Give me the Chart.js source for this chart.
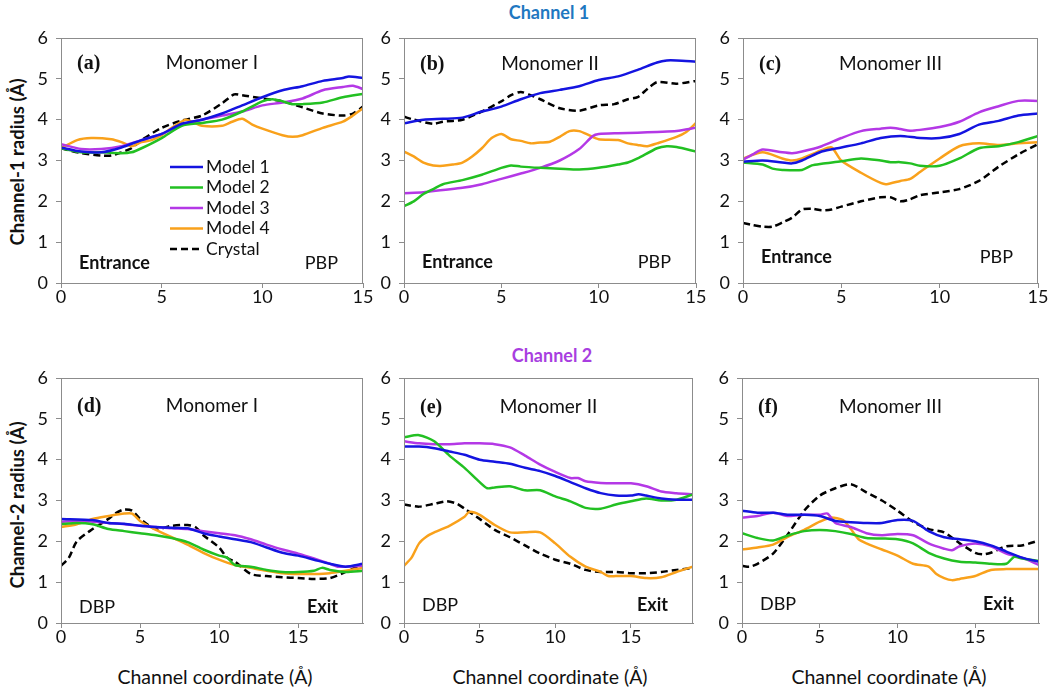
<!DOCTYPE html>
<html>
<head>
<meta charset="utf-8">
<script src="https://cdn.jsdelivr.net/npm/chart.js@4.4.1/dist/chart.umd.min.js"></script>
<style>
  body { margin: 0; background: #fff; width: 1050px; height: 687px; position: relative; overflow: hidden; font-family: Lato, "Open Sans", sans-serif; color: #111; }
  .box { position: absolute; }
  .head { position: absolute; font-weight: bold; font-size: 18px; transform: translate(-50%, -50%); white-space: nowrap; }
  .ylab { position: absolute; font-weight: bold; font-size: 18.5px; white-space: nowrap; transform: translate(-50%, -50%) rotate(-90deg); }
  .xlab { position: absolute; font-size: 19.5px; white-space: nowrap; transform: translate(-50%, -50%); }
</style>
</head>
<body>
<div class="head" style="left:549px;top:12px;color:#1f78c1">Channel 1</div>
<div class="head" style="left:552px;top:355px;color:#a83ee0">Channel 2</div>
<div class="ylab" style="left:17px;top:162px">Channel-1 radius (Å)</div>
<div class="ylab" style="left:17px;top:505px">Channel-2 radius (Å)</div>
<div class="xlab" style="left:215px;top:676px">Channel coordinate (Å)</div>
<div class="xlab" style="left:550px;top:676px">Channel coordinate (Å)</div>
<div class="xlab" style="left:889px;top:676px">Channel coordinate (Å)</div>

<script>
// series names and colours
const seriesNames = ['Model 1', 'Model 2', 'Model 3', 'Model 4', 'Crystal'];
const seriesColors = ['#1414e0', '#22c022', '#b438e6', '#f9a11b', '#000000'];

// axis ticks
const xTicksTop = [0, 5, 10, 15];
const xTicksBottom = [0, 5, 10, 15];
const yTicks = [0, 1, 2, 3, 4, 5, 6];

// (a) channel 1, monomer I  — [coordinate, radius]
const a_m1 = [[0,3.32],[1,3.22],[2,3.2],[3,3.32],[4,3.5],[5,3.65],[6,3.9],[7,4.0],[8,4.15],[9,4.35],[10,4.55],[11,4.72],[12,4.82],[13,4.95],[14,5.02],[14.3,5.06],[15,5.02]];
const a_m2 = [[0,3.3],[1,3.2],[2,3.2],[3,3.18],[3.5,3.2],[4,3.3],[5,3.55],[6,3.85],[7,3.92],[8,4.0],[9,4.2],[10,4.45],[10.5,4.5],[11,4.45],[11.5,4.38],[12,4.38],[13,4.42],[14,4.55],[15,4.63]];
const a_m3 = [[0,3.4],[1,3.28],[2,3.28],[3,3.35],[4,3.5],[5,3.65],[6,3.88],[7,4.0],[8,4.1],[9,4.2],[10,4.35],[11,4.42],[12,4.52],[13,4.72],[14,4.8],[14.5,4.83],[15,4.75]];
const a_m4 = [[0,3.3],[0.8,3.5],[1.5,3.55],[2.5,3.52],[3,3.45],[3.5,3.35],[4,3.45],[4.5,3.5],[5,3.62],[5.5,3.8],[6.2,4.0],[6.5,3.95],[7,3.85],[8,3.85],[8.5,3.95],[9,4.02],[9.5,3.88],[10,3.78],[11,3.62],[11.5,3.58],[12,3.62],[13,3.8],[14,3.95],[14.5,4.1],[15,4.28]];
const a_cr = [[0,3.3],[1,3.18],[2,3.12],[2.5,3.12],[3,3.2],[3.5,3.3],[4,3.5],[5,3.8],[6,3.98],[7,4.1],[8,4.4],[8.6,4.62],[9,4.6],[10,4.52],[11,4.45],[12,4.3],[13,4.15],[14,4.1],[14.5,4.15],[15,4.32]];

// (b) channel 1, monomer II
const b_m1 = [[0,3.91],[1,4.0],[2,4.02],[3,4.05],[4,4.2],[5,4.32],[6,4.5],[7,4.65],[8,4.73],[9,4.82],[10,4.97],[11,5.06],[12,5.22],[13,5.4],[13.5,5.45],[14,5.45],[15,5.42]];
const b_m2 = [[0,1.88],[0.5,2.0],[1,2.18],[1.5,2.3],[2,2.42],[3,2.52],[4,2.65],[5,2.82],[5.5,2.88],[6,2.85],[7,2.82],[8,2.8],[9,2.78],[10,2.82],[11,2.9],[11.5,2.95],[12,3.05],[13,3.3],[13.5,3.35],[14,3.33],[15,3.22]];
const b_m3 = [[0,2.2],[1,2.22],[2,2.28],[3,2.33],[4,2.42],[5,2.55],[6,2.68],[7,2.82],[8,3.0],[9,3.28],[9.7,3.6],[10,3.65],[11,3.67],[12,3.68],[13,3.7],[14,3.72],[15,3.8]];
const b_m4 = [[0,3.22],[0.5,3.1],[1,2.95],[1.5,2.88],[2,2.87],[2.5,2.9],[3,2.95],[3.5,3.1],[4,3.3],[4.5,3.55],[5,3.65],[5.5,3.52],[6,3.48],[6.5,3.42],[7,3.44],[7.5,3.46],[8,3.58],[8.5,3.72],[9,3.72],[9.5,3.62],[10,3.52],[11,3.5],[11.5,3.42],[12,3.38],[12.5,3.35],[13,3.42],[14,3.58],[14.5,3.7],[15,3.92]];
const b_cr = [[0,4.07],[0.5,4.0],[1.5,3.9],[2,3.95],[3,4.0],[4,4.2],[5,4.45],[5.5,4.6],[6,4.68],[6.5,4.6],[7,4.5],[8,4.28],[9,4.22],[10,4.35],[10.8,4.38],[11.5,4.5],[12,4.55],[12.5,4.75],[13,4.92],[14,4.88],[15,4.95]];

// (c) channel 1, monomer III
const c_m1 = [[0,2.97],[1,3.0],[2,2.95],[2.5,2.93],[3,3.0],[4,3.22],[5,3.32],[6,3.42],[7,3.55],[8,3.6],[9,3.55],[10,3.55],[11,3.65],[12,3.88],[13,3.97],[14,4.1],[15,4.15]];
const c_m2 = [[0,2.95],[1,2.9],[1.5,2.8],[2,2.77],[3,2.77],[3.5,2.88],[4,2.92],[5,2.98],[6,3.05],[7,3.0],[7.5,2.96],[8,2.96],[8.5,2.93],[9,2.87],[10,2.87],[11,3.05],[12,3.3],[13,3.35],[14,3.45],[15,3.6]];
const c_m3 = [[0,3.02],[0.5,3.15],[1,3.27],[2,3.2],[2.5,3.18],[3,3.22],[4,3.35],[5,3.55],[6,3.72],[7,3.78],[7.5,3.8],[8,3.77],[8.5,3.73],[9,3.75],[10,3.82],[11,3.95],[12,4.18],[13,4.33],[14,4.46],[15,4.46]];
const c_m4 = [[0,3.05],[1,3.2],[2,3.05],[2.5,3.0],[3,3.05],[4,3.25],[4.5,3.32],[5,3.0],[6,2.7],[7,2.45],[7.3,2.42],[8,2.5],[8.5,2.55],[9,2.72],[10,3.05],[11,3.35],[12,3.42],[13,3.38],[14,3.42],[15,3.45]];
const c_cr = [[0,1.47],[0.5,1.42],[1,1.38],[1.5,1.38],[2,1.48],[2.5,1.6],[3,1.8],[3.5,1.82],[4,1.78],[4.5,1.8],[5,1.87],[6,2.0],[7,2.1],[7.5,2.1],[8,2.0],[8.5,2.05],[9,2.15],[10,2.22],[11,2.3],[12,2.5],[13,2.85],[14,3.15],[15,3.4]];

// (d) channel 2, monomer I
const d_m1 = [[0,2.55],[2,2.52],[3,2.45],[4,2.43],[5,2.38],[6,2.35],[7,2.33],[8,2.32],[9,2.2],[10,2.12],[11,2.05],[12,1.98],[13,1.85],[14,1.72],[15,1.65],[16,1.55],[17,1.45],[18,1.38],[19.1,1.45]];
const d_m2 = [[0,2.42],[1,2.45],[2,2.42],[3,2.3],[4,2.25],[5,2.2],[6,2.15],[7,2.08],[8,1.98],[9,1.8],[10,1.65],[10.5,1.6],[11,1.42],[12,1.38],[13,1.3],[14,1.25],[15,1.25],[16,1.28],[16.5,1.35],[17,1.3],[18,1.25],[19.1,1.28]];
const d_m3 = [[0,2.48],[1,2.5],[2,2.48],[3,2.45],[4,2.42],[5,2.38],[6,2.35],[7,2.32],[8,2.3],[9,2.25],[10,2.2],[11,2.15],[12,2.05],[13,1.92],[14,1.8],[15,1.7],[16,1.58],[17,1.45],[17.5,1.38],[18,1.38],[19.1,1.4]];
const d_m4 = [[0,2.35],[1,2.42],[2,2.55],[3,2.62],[4,2.68],[4.5,2.68],[5,2.5],[6,2.28],[7,2.1],[8,1.92],[9,1.72],[10,1.55],[11,1.42],[12,1.35],[13,1.28],[14,1.22],[15,1.2],[16,1.2],[17,1.22],[18,1.28],[19.1,1.35]];
const d_cr = [[0,1.4],[0.5,1.6],[1,2.0],[2,2.3],[3,2.55],[3.5,2.7],[4,2.78],[4.5,2.75],[5,2.55],[6,2.3],[7,2.38],[8,2.4],[8.5,2.35],[9,2.15],[10,1.85],[10.5,1.6],[11,1.5],[12,1.2],[13,1.15],[14,1.12],[15,1.1],[16,1.08],[17,1.1],[18,1.25],[19.1,1.45]];

// (e) channel 2, monomer II
const e_m1 = [[0,4.32],[1,4.32],[2,4.28],[3,4.2],[4,4.12],[5,4.0],[6,3.95],[7,3.9],[8,3.8],[9,3.72],[10,3.6],[11,3.45],[12,3.3],[13,3.18],[14,3.12],[15,3.12],[15.5,3.15],[16,3.12],[17,3.05],[18,3.02],[19.1,3.02]];
const e_m2 = [[0,4.55],[1,4.6],[2,4.45],[3,4.1],[4,3.8],[5,3.45],[5.5,3.3],[6,3.32],[7,3.35],[8,3.25],[9,3.25],[10,3.1],[11,2.98],[12,2.82],[13,2.8],[14,2.9],[15,2.98],[16,3.05],[17,3.0],[18,3.02],[19.1,3.15]];
const e_m3 = [[0,4.45],[1,4.4],[2,4.38],[3,4.38],[4,4.4],[5,4.4],[6,4.38],[7,4.3],[8,4.1],[9,3.88],[10,3.7],[11,3.55],[11.5,3.55],[12,3.47],[13,3.43],[14,3.42],[15,3.42],[16,3.35],[17,3.22],[18,3.18],[19.1,3.15]];
const e_m4 = [[0,1.4],[0.5,1.6],[1,1.95],[1.5,2.12],[2,2.22],[3,2.38],[4,2.6],[4.3,2.72],[5,2.65],[6,2.4],[7,2.22],[8,2.22],[9,2.22],[10,1.95],[11,1.62],[12,1.38],[13,1.25],[13.5,1.15],[14,1.15],[15,1.15],[16,1.1],[17,1.12],[18,1.25],[19.1,1.38]];
const e_cr = [[0,2.9],[1,2.85],[2,2.92],[2.8,2.98],[3.5,2.92],[4,2.8],[5,2.55],[6,2.28],[7,2.1],[8,1.9],[9,1.7],[10,1.55],[11,1.45],[12,1.3],[13,1.25],[14,1.25],[15,1.22],[16,1.22],[17,1.25],[18,1.3],[19.1,1.35]];

// (f) channel 2, monomer III
const f_m1 = [[0,2.75],[1,2.7],[2,2.7],[3,2.65],[4,2.65],[5,2.62],[6,2.5],[7,2.47],[8,2.45],[9,2.45],[10,2.52],[11,2.5],[12,2.25],[13,2.1],[14,2.05],[15,2.0],[16,1.9],[17,1.75],[18,1.6],[19.1,1.5]];
const f_m2 = [[0,2.2],[1,2.08],[2,2.02],[3,2.15],[4,2.25],[5,2.28],[6,2.25],[7,2.18],[8,2.08],[9,2.07],[10,2.05],[11,1.95],[12,1.72],[13,1.58],[14,1.5],[15,1.48],[16,1.45],[17,1.45],[17.5,1.62],[18,1.58],[19.1,1.52]];
const f_m3 = [[0,2.58],[1,2.62],[2,2.7],[3,2.62],[4,2.65],[5,2.65],[5.5,2.68],[6,2.45],[7,2.35],[8,2.2],[9,2.15],[10,2.18],[11,2.15],[12,1.95],[13,1.82],[13.5,1.78],[14,1.88],[15,1.95],[16,1.88],[17,1.7],[18,1.6],[19.1,1.42]];
const f_m4 = [[0,1.8],[1,1.85],[2,1.92],[3,2.12],[4,2.28],[5,2.48],[5.7,2.58],[6.5,2.52],[7,2.3],[7.5,2.05],[8,1.95],[9,1.8],[10,1.65],[11,1.45],[12,1.38],[12.5,1.2],[13,1.1],[13.5,1.05],[14,1.08],[15,1.15],[16,1.3],[17,1.32],[18,1.32],[19.1,1.32]];
const f_cr = [[0,1.4],[0.5,1.38],[1,1.45],[2,1.7],[3,2.2],[4,2.75],[5,3.12],[6,3.3],[7,3.4],[8,3.2],[9,3.0],[10,2.75],[11,2.48],[12,2.3],[13,2.22],[14,1.95],[15,1.72],[15.5,1.68],[16,1.72],[17,1.88],[18,1.9],[19.1,2.02]];

const YW = 45, XH = 32, PT = 10, PR = 12;

// draws the box, the panel texts and (optionally) the legend
const panelPlugin = {
  id: 'panel',
  afterDraw(chart, args, opts) {
    const { ctx, chartArea: a } = chart;
    ctx.save();
    ctx.strokeStyle = '#8c8c8c';
    ctx.lineWidth = 1;
    ctx.strokeRect(a.left + 0.5, a.top + 0.5, a.right - a.left - 1, a.bottom - a.top);
    ctx.fillStyle = '#111';
    ctx.textBaseline = 'middle';
    ctx.font = 'bold 20px "Liberation Serif", serif';
    ctx.textAlign = 'left';
    ctx.fillText(opts.tag, a.left + 16, a.top + opts.titleDy + 1);
    ctx.font = '19px Lato, sans-serif';
    ctx.textAlign = 'center';
    ctx.fillText(opts.title, (a.left + a.right) / 2, a.top + opts.titleDy);
    ctx.textAlign = 'left';
    ctx.font = (opts.leftBold ? 'bold ' : '') + '18px Lato, sans-serif';
    ctx.fillText(opts.left, a.left + 18, a.bottom - opts.footDy);
    ctx.textAlign = 'right';
    ctx.font = (opts.rightBold ? 'bold ' : '') + '18px Lato, sans-serif';
    ctx.fillText(opts.right, a.right - 25, a.bottom - opts.footDy);
    if (opts.legend) {
      ctx.textAlign = 'left';
      ctx.font = '17.5px Lato, sans-serif';
      chart.data.datasets.forEach((ds, i) => {
        const y = a.top + 129 + i * 20.5;
        const x0 = a.left + 109;
        ctx.strokeStyle = ds.borderColor;
        ctx.lineWidth = 2.5;
        ctx.setLineDash(ds.borderDash || []);
        ctx.beginPath();
        ctx.moveTo(x0, y);
        ctx.lineTo(x0 + 33, y);
        ctx.stroke();
        ctx.setLineDash([]);
        ctx.fillStyle = '#111';
        ctx.fillText(ds.label, x0 + 36, y);
      });
    }
    ctx.restore();
  }
};

function makePanel(rect, series, xmax, xTicks, texts) {
  const L = rect[0], R = rect[1], T = rect[2], B = rect[3];
  const div = document.createElement('div');
  div.className = 'box';
  div.style.left = (L - YW) + 'px';
  div.style.top = (T - PT) + 'px';
  div.style.width = (R - L + YW + PR) + 'px';
  div.style.height = (B - T + PT + XH) + 'px';
  const canvas = document.createElement('canvas');
  div.appendChild(canvas);
  document.body.appendChild(div);

  const datasets = series.map((pts, i) => ({
    label: seriesNames[i],
    data: pts.map(p => ({ x: p[0], y: p[1] })),
    borderColor: seriesColors[i],
    borderWidth: 2.5,
    borderDash: i === 4 ? [7, 4] : [],
    pointRadius: 0,
    tension: 0.25,
    fill: false
  }));

  new Chart(canvas.getContext('2d'), {
    type: 'line',
    data: { datasets: datasets },
    options: {
      responsive: true,
      maintainAspectRatio: false,
      animation: false,
      layout: { padding: { top: PT, right: PR, left: 0, bottom: 0 } },
      plugins: { legend: { display: false }, tooltip: { enabled: false }, panel: texts },
      scales: {
        x: {
          type: 'linear', min: 0, max: xmax,
          afterBuildTicks: s => { s.ticks = xTicks.map(v => ({ value: v })); },
          afterFit: s => { s.height = XH; s.paddingLeft = 0; s.paddingRight = 0; },
          grid: { drawOnChartArea: false, drawTicks: true, tickLength: 5, color: '#8c8c8c' },
          border: { color: '#8c8c8c' },
          ticks: { font: { family: 'Lato', size: 18 }, color: '#111', padding: -2, maxRotation: 0 }
        },
        y: {
          min: 0, max: 6,
          afterBuildTicks: s => { s.ticks = yTicks.map(v => ({ value: v })); },
          afterFit: s => { s.width = YW; s.paddingTop = 0; s.paddingBottom = 0; },
          grid: { drawOnChartArea: false, drawTicks: true, tickLength: 5, color: '#8c8c8c' },
          border: { color: '#8c8c8c' },
          ticks: { font: { family: 'Lato', size: 18 }, color: '#111', padding: 8 }
        }
      }
    },
    plugins: [panelPlugin]
  });
}

makePanel([61, 363, 38, 283], [a_m1, a_m2, a_m3, a_m4, a_cr], 15, xTicksTop,
  { tag: '(a)', title: 'Monomer I', titleDy: 25, left: 'Entrance', leftBold: true, right: 'PBP', rightBold: false, footDy: 20, legend: true });
makePanel([404, 696, 38, 283], [b_m1, b_m2, b_m3, b_m4, b_cr], 15, xTicksTop,
  { tag: '(b)', title: 'Monomer II', titleDy: 26, left: 'Entrance', leftBold: true, right: 'PBP', rightBold: false, footDy: 21 });
makePanel([743, 1038, 38, 283], [c_m1, c_m2, c_m3, c_m4, c_cr], 15, xTicksTop,
  { tag: '(c)', title: 'Monomer III', titleDy: 26, left: 'Entrance', leftBold: true, right: 'PBP', rightBold: false, footDy: 26 });
makePanel([61, 363, 378, 623], [d_m1, d_m2, d_m3, d_m4, d_cr], 19.1, xTicksBottom,
  { tag: '(d)', title: 'Monomer I', titleDy: 28, left: 'DBP', leftBold: false, right: 'Exit', rightBold: true, footDy: 16 });
makePanel([404, 693, 378, 623], [e_m1, e_m2, e_m3, e_m4, e_cr], 19.1, xTicksBottom,
  { tag: '(e)', title: 'Monomer II', titleDy: 29, left: 'DBP', leftBold: false, right: 'Exit', rightBold: true, footDy: 18 });
makePanel([742, 1039, 378, 623], [f_m1, f_m2, f_m3, f_m4, f_cr], 19.1, xTicksBottom,
  { tag: '(f)', title: 'Monomer III', titleDy: 29, left: 'DBP', leftBold: false, right: 'Exit', rightBold: true, footDy: 19 });
</script>
</body>
</html>
